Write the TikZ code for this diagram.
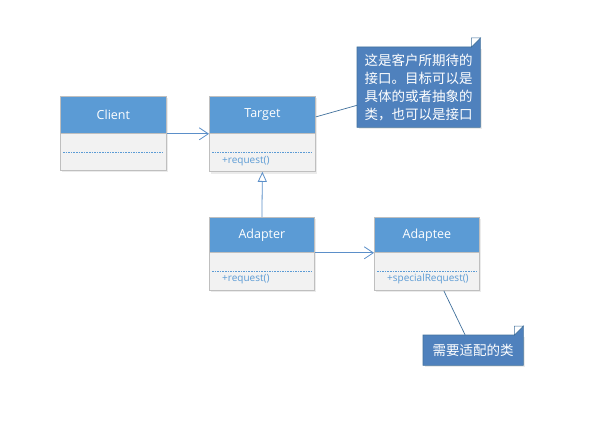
\documentclass[tikz,border=0pt]{standalone}
\usepackage{fontspec}
\setmainfont{Open Sans}
\newfontfamily\cjk{Noto Sans CJK SC}
\usetikzlibrary{arrows.meta,calc}
\definecolor{hdrblue}{HTML}{5B9BD5}
\definecolor{bodygray}{HTML}{F2F2F2}
\definecolor{boxline}{HTML}{BFBFBF}
\definecolor{notefill}{HTML}{4F81BD}
\definecolor{noteline}{HTML}{41719C}
\definecolor{linkblue}{HTML}{5B8FC9}
\tikzset{
  hdr/.style={rectangle, draw=boxline, fill=hdrblue, line width=0.8pt, inner sep=0pt,
    minimum width=106pt, minimum height=37pt, anchor=north west, text=white,
    font=\fontsize{12.5}{14}\selectfont},
  bdy/.style={rectangle, draw=boxline, fill=bodygray, line width=0.8pt, inner sep=0pt,
    minimum width=106pt, minimum height=38pt, anchor=north west},
  sep/.style={draw=hdrblue, dash pattern=on 1.6pt off 1pt, line width=0.6pt},
  meth/.style={anchor=west, text=hdrblue, inner sep=0pt, font=\fontsize{10}{12}\selectfont},
  link/.style={draw=linkblue, line width=0.8pt},
  notebox/.style={rectangle, inner sep=0pt, anchor=north west},
  notetext/.style={text=white, align=left, inner sep=0pt, font=\cjk\fontsize{13.5}{18}\selectfont},
  shadowbox/.style={fill=black!8}
}
\begin{document}
\begin{tikzpicture}[x=1pt,y=-1pt]
\useasboundingbox (0,0) rectangle (615,428);
\fill[white] (0,0) rectangle (615,428);
% shadows
\fill[shadowbox] (62,98) rectangle (168,172);
\fill[shadowbox] (211,98) rectangle (317,174);
\fill[shadowbox] (211,219) rectangle (316,292);
\fill[shadowbox] (376,219) rectangle (481,292);
% Client
\node[hdr] (clientH) at (60,96) {Client};
\node[bdy, minimum height=37pt] (clientB) at (60,133) {};
\draw[sep] (63,152) -- (163,152);
% Target
\node[hdr] (targetH) at (209,96) {Target};
\node[bdy] (targetB) at (209,133) {};
\draw[sep] (212,152) -- (312,152);
\node[meth] (targetM) at (222,161) {+request()};
% Adapter
\node[hdr, minimum width=105pt, minimum height=35pt] (adapterH) at (209,217) {Adapter};
\node[bdy, minimum width=105pt] (adapterB) at (209,252) {};
\draw[sep] (212,271) -- (311,271);
\node[meth] (adapterM) at (222,279) {+request()};
% Adaptee
\node[hdr, minimum width=105pt, minimum height=35pt] (adapteeH) at (374,217) {Adaptee};
\node[bdy, minimum width=105pt] (adapteeB) at (374,252) {};
\draw[sep] (377,271) -- (476,271);
\node[meth] (adapteeM) at (387,279) {+specialRequest()};
% Note 1
\node[notebox, minimum width=123pt, minimum height=80pt] (note1) at (357,47) {};
\fill[black!8] (359,49) rectangle (482,129);
\filldraw[fill=notefill, draw=noteline, line width=0.6pt]
  (note1.north west) -- ([xshift=-9pt]note1.north east) -- ([yshift=9pt]note1.north east)
  -- (note1.south east) -- (note1.south west) -- cycle;
\filldraw[fill=white, draw=noteline, line width=0.5pt]
  ([xshift=-9pt]note1.north east) -- ([xshift=-9pt,yshift=9pt]note1.north east) -- ([yshift=9pt]note1.north east) -- cycle;
\node[notetext] (note1T) at (note1.center) {这是客户所期待的\\接口。目标可以是\\具体的或者抽象的\\类，也可以是接口};
% Note 2
\node[notebox, minimum width=100pt, minimum height=30pt] (note2) at (423,335) {};
\fill[black!8] (425,337) rectangle (525,367);
\filldraw[fill=notefill, draw=noteline, line width=0.6pt]
  (note2.north west) -- ([xshift=-9pt]note2.north east) -- ([yshift=9pt]note2.north east)
  -- (note2.south east) -- (note2.south west) -- cycle;
\filldraw[fill=white, draw=noteline, line width=0.5pt]
  ([xshift=-9pt]note2.north east) -- ([xshift=-9pt,yshift=9pt]note2.north east) -- ([yshift=9pt]note2.north east) -- cycle;
\node[notetext] (note2T) at (note2.center) {需要适配的类};
% connectors
\draw[link, -{Straight Barb[length=9pt,width=12pt,line width=0.8pt]}] (clientH.south east) -- (targetH.south west);
\draw[link, -{Straight Barb[length=9pt,width=12pt,line width=0.8pt]}] (adapterH.south east) -- (adapteeH.south west);
\draw[link, -{Triangle[open,length=10pt,width=9pt,fill=white]}] (adapterH.north) -- (targetB.south);
\draw[draw=noteline, line width=0.7pt] ($(targetH.east)+(0,2)$) -- ($(note1.south west)!0.275!(note1.north west)$);
\draw[draw=noteline, line width=0.7pt] ($(adapteeB.south west)!0.66!(adapteeB.south east)$) -- ($(note2.north west)!0.42!(note2.north east)$);
\end{tikzpicture}
\end{document}
